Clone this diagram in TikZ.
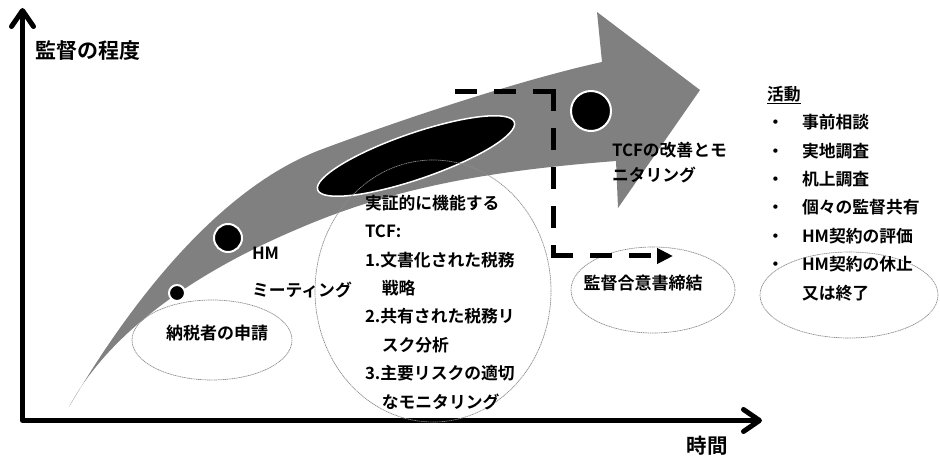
\documentclass[tikz,border=0pt]{standalone}
\usepackage{fontspec}
\setmainfont{Noto Sans CJK JP}[BoldFont={Noto Sans CJK JP Bold}]
\usetikzlibrary{arrows.meta}
\begin{document}
\begin{tikzpicture}[x=1pt,y=-1pt,
  every node/.style={inner sep=0pt, outer sep=0pt},
  lbl/.style={font=\fontsize{16.8}{28.4}\selectfont\bfseries, align=left},
  axis/.style={line width=5pt, line cap=round, line join=round},
  band/.style={fill=black!50},
  dotc/.style={fill=black, draw=white, line width=2pt},
  oval/.style={draw=black!45, line width=0.7pt, dash pattern=on 1.2pt off 0.6pt},
  dashline/.style={line width=5pt, dash pattern=on 17pt off 22pt, line cap=rect}]
\useasboundingbox (0,0) rectangle (940,457);

% axes
\coordinate (ytop) at (22.5,8);
\coordinate (orig) at (22.5,420.5);
\coordinate (xend) at (762,420.5);
\draw[axis, {Straight Barb[round,length=16pt,width=22pt]}-{Straight Barb[round,length=16pt,width=22pt]}] (ytop) -- (orig) -- (xend);

% big curved arrow
\path[band] (69,407) .. controls (120,320) and (210,192) .. (320,150)
  .. controls (400,120) and (520,80) .. (602,62) -- (597,12) -- (700,90)
  -- (618,208) -- (616,161) .. controls (500,170) and (400,185) .. (300,228)
  .. controls (200,270) and (110,330) .. (69,407) -- cycle;

% black ellipse and dots
\draw[fill=black, draw=white, line width=1.5pt, shift={(416,156)}, rotate=19] (0,0) ellipse [x radius=104, y radius=23];
\draw[dotc] (177,293) circle [radius=8];
\draw[dotc] (228,238) circle [radius=14];
\draw[dotc] (591,111) circle [radius=20];

% thin ovals
\draw[oval] (212,340) ellipse [x radius=80, y radius=40];
\draw[oval] (433,291) ellipse [x radius=118, y radius=131];
\draw[oval] (653,290) ellipse [x radius=82, y radius=43];
\draw[oval] (849,295) ellipse [x radius=89, y radius=43];

% dashed arrow
\coordinate (d0) at (457,92);
\coordinate (d1) at (553,92);
\coordinate (d2) at (553,256);
\coordinate (d3) at (673,256);
\draw[dashline] (d0) -- (d1);
\draw[dashline] (d1) -- (d2);
\draw[dashline, -{Triangle[length=16pt,width=15pt]}] (d2) -- (d3);

% labels
\node[lbl, font=\fontsize{21}{25}\selectfont\bfseries] (ylab) at (88,51) {監督の程度};
\node[lbl, font=\fontsize{20.5}{25}\selectfont\bfseries] (xlab) at (707,446) {時間};
\node[lbl, font=\fontsize{17}{25}\selectfont\bfseries] (apply) at (217,333) {納税者の申請};
\node[lbl, font=\fontsize{16.8}{37.5}\selectfont\bfseries, anchor=north west] (hm) at (252,247) {HM\\ミーティング};
\node[lbl, anchor=north west] (tcf) at (365,195) {実証的に機能する\\TCF:\\1.文書化された税務\\\hspace*{1em}戦略\\2.共有された税務リ\\\hspace*{1em}スク分析\\3.主要リスクの適切\\\hspace*{1em}なモニタリング};
\node[lbl, font=\fontsize{16.8}{25.5}\selectfont\bfseries, anchor=north west] (impr) at (612,142) {TCFの改善とモ\\ニタリング};
\node[lbl, font=\fontsize{17}{25}\selectfont\bfseries] (agree) at (643,283) {監督合意書締結};
\node[lbl, anchor=north west] (acts) at (767,86) {\underline{活動}\\\makebox[35pt][l]{・}事前相談\\\makebox[35pt][l]{・}実地調査\\\makebox[35pt][l]{・}机上調査\\\makebox[35pt][l]{・}個々の監督共有\\\makebox[35pt][l]{・}HM契約の評価\\\makebox[35pt][l]{・}HM契約の休止\\\hspace*{35pt}又は終了};
\end{tikzpicture}
\end{document}
